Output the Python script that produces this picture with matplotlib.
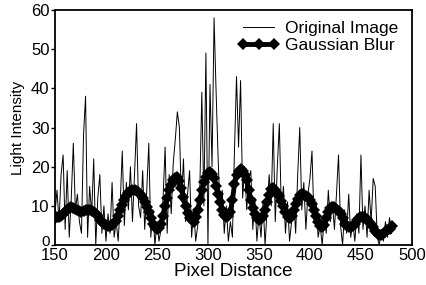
import numpy as np
import matplotlib
matplotlib.use('Agg')
import matplotlib.pyplot as plt
import matplotlib.transforms as mtransforms

#pixel positions (step 2)
pixels = np.arange(150, 481, 2)

#original image profile
original = [8, 14, 6, 18, 23, 4, 19, 2, 12, 26,
	9, 13, 6, 3, 28, 38, 2, 15, 8, 22,
	0, 12, 18, 3, 10, 1, 8, 3, 16, 2,
	6, 1, 11, 24, 5, 16, 9, 20, 6, 18,
	31, 10, 7, 19, 4, 14, 26, 2, 9, 0,
	6, 1, 4, 12, 25, 3, 18, 8, 21, 27,
	34, 30, 11, 22, 6, 13, 19, 2, 9, 1,
	5, 14, 39, 10, 49, 0, 41, 20, 58, 39,
	22, 8, 14, 3, 10, 1, 6, 2, 24, 43,
	25, 42, 12, 20, 9, 17, 19, 4, 12, 1,
	8, 2, 11, 0, 9, 18, 10, 31, 6, 20,
	31, 8, 15, 3, 11, 1, 6, 12, 3, 18,
	30, 9, 16, 4, 13, 17, 24, 6, 11, 2,
	5, 0, 7, 3, 14, 6, 11, 4, 13, 23,
	5, 0, 9, 3, 13, 2, 6, 1, 8, 3,
	23, 4, 10, 2, 14, 6, 17, 15, 2, 0,
	4, 1, 6, 2, 7, 3]

#gaussian blurred profile
blur = [7.0, 7.1, 7.2, 7.5, 8.0, 8.5, 9.0, 9.4, 9.6, 9.5,
	9.3, 9.0, 8.6, 8.5, 8.7, 8.9, 9.0, 9.0, 8.8, 8.5,
	8.0, 7.3, 6.5, 5.9, 5.4, 5.1, 5.0, 5.0, 5.2, 5.6,
	6.2, 7.4, 9.0, 10.3, 11.5, 12.5, 13.3, 13.8, 14.0, 14.0,
	13.8, 13.4, 12.8, 12.0, 11.0, 9.8, 8.5, 7.0, 5.5, 4.5,
	4.0, 4.3, 5.5, 7.5, 10.0, 12.0, 14.0, 15.4, 16.5, 17.2,
	17.5, 16.4, 14.5, 12.2, 10.0, 8.3, 7.0, 6.3, 6.0, 7.2,
	9.0, 11.5, 14.0, 16.0, 17.5, 18.3, 18.7, 18.2, 17.0, 15.2,
	13.0, 11.0, 9.0, 7.8, 7.2, 7.5, 8.5, 11.5, 15.5, 17.8,
	19.0, 19.3, 19.0, 18.0, 16.5, 14.0, 11.5, 9.5, 8.0, 7.0,
	6.5, 6.6, 7.5, 9.0, 11.0, 12.8, 14.3, 14.5, 14.0, 13.4,
	12.5, 11.3, 10.0, 8.5, 7.2, 6.8, 7.5, 9.0, 10.5, 11.8,
	12.8, 13.0, 12.8, 12.6, 12.2, 11.5, 10.5, 9.0, 7.5, 6.0,
	5.0, 4.6, 5.2, 6.8, 8.5, 9.4, 9.8, 9.6, 9.3, 8.8,
	8.0, 6.8, 5.5, 5.0, 4.7, 4.6, 4.8, 5.5, 6.5, 7.0,
	7.2, 7.2, 7.0, 6.6, 6.0, 5.3, 4.5, 3.7, 3.0, 2.6,
	2.5, 2.8, 3.4, 3.8, 4.2, 4.8]

plt.rcParams['font.family'] = ['Liberation Sans', 'DejaVu Sans']

fig = plt.figure(figsize=(4.26, 2.85), dpi=100, facecolor='w')
ax = fig.add_axes([0.129, 0.140, 0.838, 0.825])

#plot
ax.plot(pixels, original, color='black', linewidth=0.7, label='Original Image')
ax.plot(pixels, blur, color='black', linewidth=3.5, marker='D', markersize=6,
	markeredgewidth=0.0, label='Gaussian Blur')

#legend
ax.legend(loc='upper right', frameon=False, fontsize=12.5, numpoints=3,
	handlelength=2.4, handletextpad=0.3, labelspacing=0.12,
	borderaxespad=0.1, bbox_to_anchor=(0.985, 0.99))

#axis
ax.set_xlim(150, 500)
ax.set_ylim(0, 60)
ax.set_xticks([150, 200, 250, 300, 350, 400, 450, 500])
ax.set_yticks([0, 10, 20, 30, 40, 50, 60])
ax.tick_params(axis='x', length=0, pad=2, labelsize=12)
ax.tick_params(axis='y', length=3, width=1, pad=1, labelsize=12)
for sp in ax.spines.values():
	sp.set_linewidth(1.3)
ax.set_xlabel('Pixel Distance', fontsize=13.5, labelpad=0)
ax.set_ylabel('Light Intensity', fontsize=11, labelpad=4)

#lift the "0" label a little so it clears the "150"
lab0 = ax.get_yticklabels()[0]
lab0.set_fontsize(11)
lab0.set_transform(lab0.get_transform() + mtransforms.ScaledTranslation(0, 3/72., fig.dpi_scale_trans))

plt.savefig('out.png', dpi=100)
